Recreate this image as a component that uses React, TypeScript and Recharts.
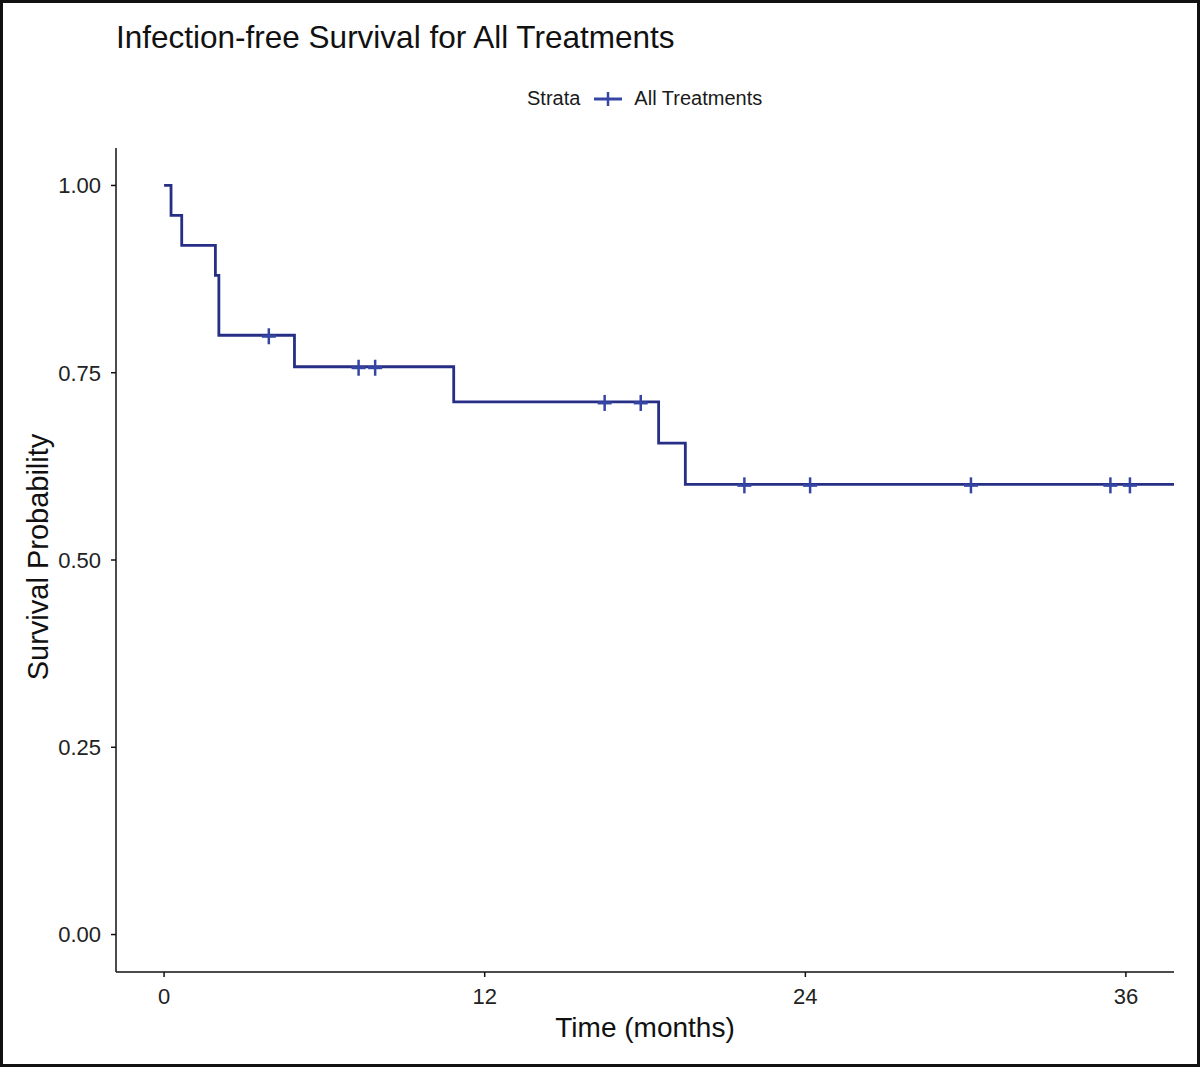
import React from 'react';
import { ComposedChart, Line, Scatter, XAxis, YAxis, Legend } from 'recharts';

// Kaplan-Meier step curve (time in months, survival probability)
const stepTimes = [0, 0.26, 0.66, 1.92, 2.05, 4.88, 10.84, 18.51, 19.51, 38.5];
const stepSurv = [1.0, 0.96, 0.92, 0.88, 0.8, 0.758, 0.711, 0.656, 0.601, 0.601];

// Censoring marks
const censorTimes = [3.92, 7.28, 7.9, 16.49, 17.84, 21.72, 24.18, 30.2, 35.42, 36.15];
const censorSurv = [0.8, 0.758, 0.758, 0.711, 0.711, 0.601, 0.601, 0.601, 0.601, 0.601];

const xTicks = [0, 12, 24, 36];
const yTicks = [0, 0.25, 0.5, 0.75, 1.0];

const stepData = stepTimes.map((t, i) => ({ time: t, surv: stepSurv[i] }));
const censorData = censorTimes.map((t, i) => ({ time: t, surv: censorSurv[i] }));

const LINE_COLOR = '#262e86';
const MARK_COLOR = '#3545a4';
const FONT = '"Liberation Sans", Arial, sans-serif';

const Cross = (props: any) => {
  const { cx, cy } = props;
  if (cx == null || cy == null) return null;
  const y = cy + 1;
  return (
    <g>
      <line x1={cx - 7} y1={y} x2={cx + 7} y2={y} stroke={MARK_COLOR} strokeWidth={3} />
      <line x1={cx} y1={y - 8} x2={cx} y2={y + 8} stroke={MARK_COLOR} strokeWidth={2.5} />
    </g>
  );
};

const LegendContent = () => (
  <div
    style={{
      display: 'flex',
      alignItems: 'center',
      fontFamily: FONT,
      fontSize: 20,
      color: '#1a1a1a',
      whiteSpace: 'nowrap',
    }}
  >
    <span>Strata</span>
    <svg width={30} height={20} style={{ marginLeft: 13, marginRight: 11 }}>
      <line x1={1} y1={10} x2={29} y2={10} stroke={MARK_COLOR} strokeWidth={3} />
      <line x1={15} y1={3} x2={15} y2={17} stroke={MARK_COLOR} strokeWidth={2.5} />
    </svg>
    <span>All Treatments</span>
  </div>
);

export default function App() {
  return (
    <div
      style={{
        position: 'absolute',
        left: 0,
        top: 0,
        width: 1200,
        height: 1067,
        background: '#fff',
        boxSizing: 'border-box',
        border: '3px solid #111',
        overflow: 'hidden',
      }}
    >
      <div
        style={{
          position: 'absolute',
          left: 113,
          top: 14,
          fontFamily: FONT,
          fontSize: 31.5,
          color: '#111',
          whiteSpace: 'nowrap',
          lineHeight: '40px',
        }}
      >
        Infection-free Survival for All Treatments
      </div>
      <div style={{ position: 'absolute', left: -3, top: -3 }}>
        <ComposedChart
          width={1200}
          height={1067}
          margin={{ top: 148, right: 26, bottom: 0, left: 0 }}
        >
          <XAxis
            type="number"
            dataKey="time"
            domain={[-1.8, 37.8]}
            allowDataOverflow
            ticks={xTicks}
            interval={0}
            height={95}
            tickSize={5}
            tickMargin={11}
            stroke="#111"
            strokeWidth={1.5}
            tick={{ fill: '#222', fontSize: 22, fontFamily: FONT }}
            label={{
              content: () => (
                <text
                  x={645}
                  y={1037}
                  textAnchor="middle"
                  fontFamily={FONT}
                  fontSize={28}
                  fill="#111"
                >
                  Time (months)
                </text>
              ),
            }}
          />
          <YAxis
            type="number"
            domain={[-0.05, 1.05]}
            allowDataOverflow
            ticks={yTicks}
            interval={0}
            width={116}
            tickSize={5}
            tickMargin={10}
            stroke="#111"
            strokeWidth={1.5}
            tickFormatter={(v: number) => v.toFixed(2)}
            tick={{ fill: '#222', fontSize: 22, fontFamily: FONT }}
            label={{
              content: () => (
                <text
                  x={48}
                  y={557}
                  transform="rotate(-90 48 557)"
                  textAnchor="middle"
                  fontFamily={FONT}
                  fontSize={29}
                  fill="#111"
                >
                  Survival Probability
                </text>
              ),
            }}
          />
          <Legend
            layout="horizontal"
            verticalAlign="middle"
            align="center"
            content={<LegendContent />}
            wrapperStyle={{ position: 'absolute', top: 87, left: 527, width: 'auto' }}
          />
          <Line
            data={stepData}
            dataKey="surv"
            type="stepAfter"
            stroke={LINE_COLOR}
            strokeWidth={2.8}
            dot={false}
            activeDot={false}
            isAnimationActive={false}
            legendType="none"
            name="All Treatments"
          />
          <Scatter
            data={censorData}
            dataKey="surv"
            shape={<Cross />}
            isAnimationActive={false}
            legendType="none"
          />
        </ComposedChart>
      </div>
    </div>
  );
}
